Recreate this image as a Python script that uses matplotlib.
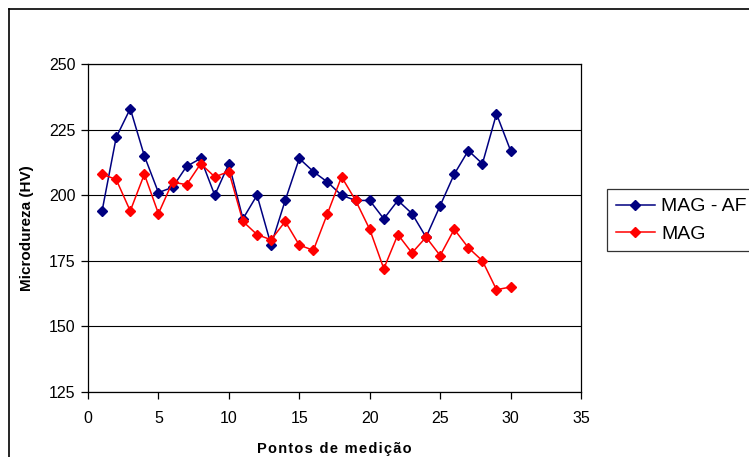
import matplotlib
matplotlib.use("Agg")
import matplotlib.pyplot as plt
from matplotlib.lines import Line2D

plt.rcParams['font.family'] = ['Liberation Sans', 'DejaVu Sans']

pontos = list(range(1, 31))
mag_af = [194, 222, 233, 215, 201, 203, 211, 214, 200, 212,
          191, 200, 181, 198, 214, 209, 205, 200, 198, 198,
          191, 198, 193, 184, 196, 208, 217, 212, 231, 217]
mag = [208, 206, 194, 208, 193, 205, 204, 212, 207, 209,
       190, 185, 183, 190, 181, 179, 193, 207, 198, 187,
       172, 185, 178, 184, 177, 187, 180, 175, 164, 165]
series_names = ["MAG - AF", "MAG"]
x_ticks = [0, 5, 10, 15, 20, 25, 30, 35]
y_ticks = [125, 150, 175, 200, 225, 250]
x_label = "Pontos de medição"
y_label = "Microdureza (HV)"

W, H = 749, 457
fig = plt.figure(figsize=(W / 100, H / 100), dpi=100)
ax = fig.add_axes([88 / W, 1 - 392 / H, (581 - 88) / W, (392 - 64) / H])

ax.plot(pontos, mag_af, color='#000080', marker='D', markersize=5.5, lw=1.1,
        label=series_names[0], zorder=3)
ax.plot(pontos, mag, color='#FF0000', marker='D', markersize=5.5, lw=1.1,
        label=series_names[1], zorder=3)

ax.set_xlim(0, 35)
ax.set_ylim(125, 250)
ax.set_xticks(x_ticks)
ax.set_yticks(y_ticks)
ax.yaxis.grid(True, color='black', lw=0.8)
ax.set_axisbelow(True)
for s in ax.spines.values():
    s.set_color('black')
    s.set_linewidth(0.9)
ax.tick_params(axis='both', direction='out', length=5, width=0.9, labelsize=11.5, colors='black')
ax.tick_params(axis='x', pad=9)
ax.tick_params(axis='y', pad=4)

spaced = "\u200a".join(x_label)
ax.set_xlabel(spaced, fontsize=10.5, fontweight='bold', labelpad=11)
ax.set_ylabel(y_label, fontsize=11, fontweight='bold', labelpad=11)

# outer chart border (left and top visible)
fig.add_artist(Line2D([9 / W, 9 / W], [0, 1 - 9 / H], transform=fig.transFigure, color='black', lw=1.2))
fig.add_artist(Line2D([9 / W, 1], [1 - 9 / H, 1 - 9 / H], transform=fig.transFigure, color='black', lw=1.2))

leg = fig.legend(loc='upper left', bbox_to_anchor=(607 / W, 1 - 189 / H),
                 fontsize=14, frameon=True, fancybox=False, edgecolor='black',
                 borderpad=0.45, handlelength=2.0, handletextpad=0.35, labelspacing=0.5,
                 borderaxespad=0)
leg.get_frame().set_linewidth(0.9)
for h in leg.legend_handles:
    h.set_markersize(5)

fig.savefig("out.png", dpi=100)
